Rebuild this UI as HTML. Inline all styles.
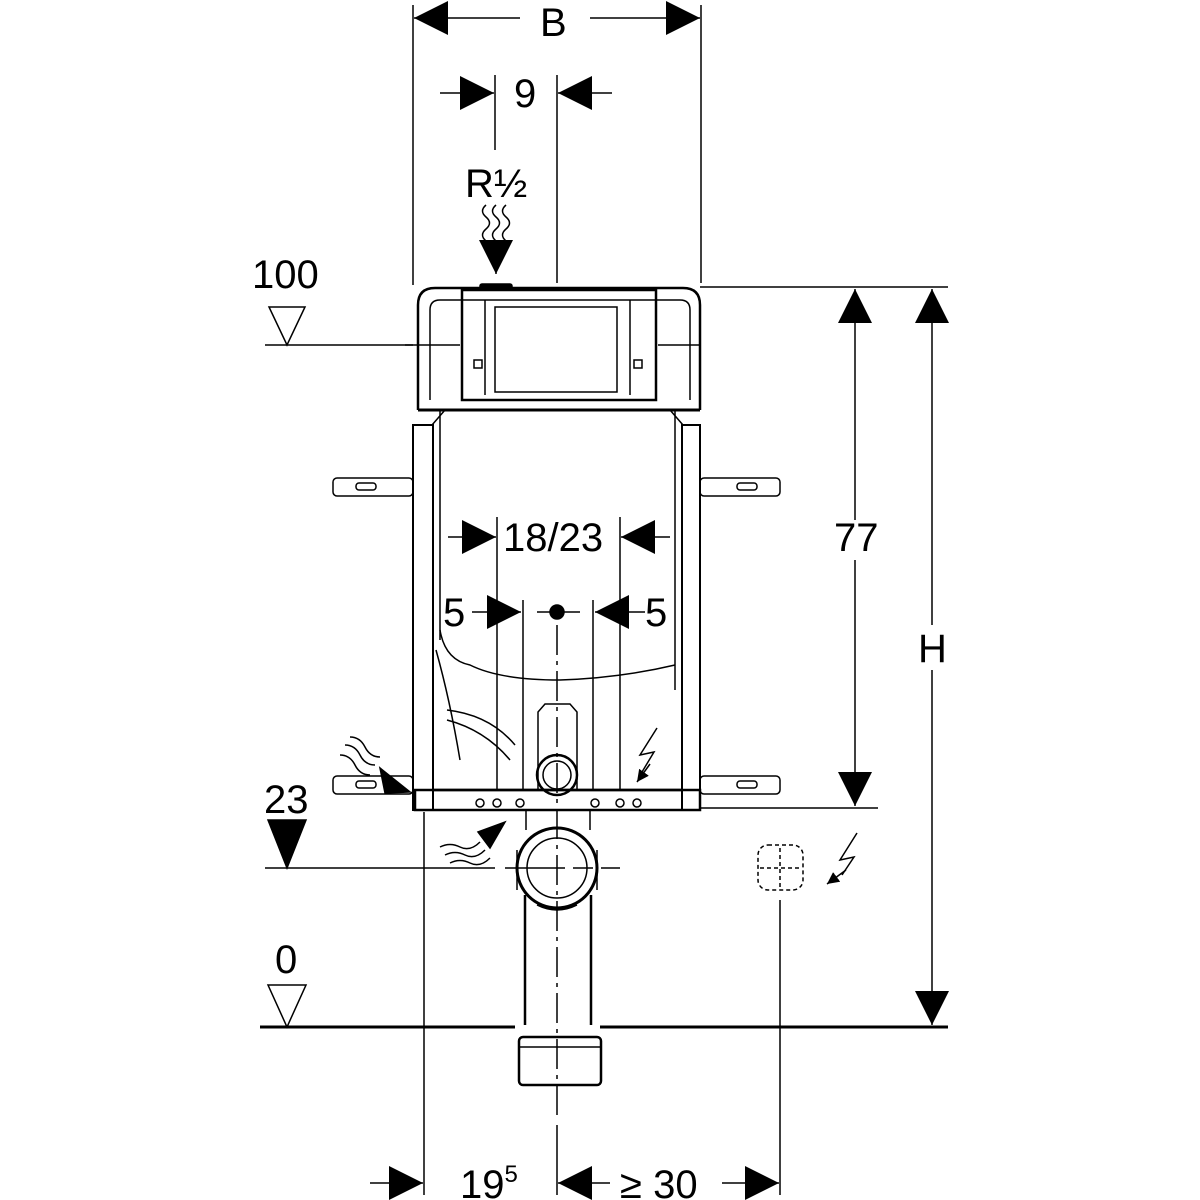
<!DOCTYPE html>
<html><head><meta charset="utf-8"><style>
html,body{margin:0;padding:0;background:#fff;}
svg{display:block;}
text{font-family:"Liberation Sans",sans-serif;fill:#000;}
</style></head><body>
<svg width="1200" height="1200" viewBox="0 0 1200 1200" xmlns="http://www.w3.org/2000/svg">
<defs>
<marker id="a" viewBox="0 0 10 10" refX="10" refY="5" markerWidth="34" markerHeight="34" markerUnits="userSpaceOnUse" orient="auto"><path d="M0,0 L10,5 L0,10 z" fill="#000"/></marker>
<marker id="s" viewBox="0 0 10 10" refX="10" refY="5" markerWidth="12" markerHeight="12" markerUnits="userSpaceOnUse" orient="auto"><path d="M0,0 L10,5 L0,10 z" fill="#000"/></marker>
</defs>
<g stroke="#000" fill="none" stroke-width="1.5">
<!-- B -->
<line x1="413" y1="5" x2="413" y2="285"/>
<line x1="701" y1="5" x2="701" y2="283"/>
<line x1="520" y1="18" x2="414" y2="18" marker-end="url(#a)"/>
<line x1="590" y1="18" x2="700" y2="18" marker-end="url(#a)"/>
<!-- 9 -->
<line x1="495" y1="75" x2="495" y2="150"/>
<line x1="557" y1="75" x2="557" y2="283"/>
<line x1="440" y1="93" x2="494" y2="93" marker-end="url(#a)"/>
<line x1="612" y1="93" x2="558" y2="93" marker-end="url(#a)"/>
<!-- R1/2 waves and arrow -->
<path d="M486,205 q-7,6 0,12 t0,12 t0,12 M496,205 q-7,6 0,12 t0,12 t0,12 M506,205 q-7,6 0,12 t0,12 t0,12"/>
<line x1="496" y1="245" x2="496" y2="274" marker-end="url(#a)"/>
<!-- level 100 -->
<line x1="265" y1="345" x2="413" y2="345"/>
<path d="M269,307 L305,307 L287,345 z"/>
<!-- level 23 -->
<line x1="265" y1="868" x2="620" y2="868" stroke-dasharray="230,10,60,8,20,8"/>
<path d="M268,820 L306,820 L287,868 z" fill="#000"/>
<!-- level 0 -->
<path d="M268,985 L306,985 L287,1027 z"/>
<line x1="260" y1="1027" x2="515" y2="1027" stroke-width="3"/>
<line x1="600" y1="1027" x2="948" y2="1027" stroke-width="3"/>
<!-- 77 & H -->
<line x1="700" y1="287" x2="948" y2="287"/>
<line x1="700" y1="808" x2="878" y2="808"/>
<line x1="855" y1="520" x2="855" y2="289" marker-end="url(#a)"/>
<line x1="855" y1="560" x2="855" y2="806" marker-end="url(#a)"/>
<line x1="932" y1="625" x2="932" y2="289" marker-end="url(#a)"/>
<line x1="932" y1="670" x2="932" y2="1025" marker-end="url(#a)"/>
<!-- top frame -->
<path d="M418,410 L418,305 Q418,288 435,288 L683,288 Q700,288 700,305 L700,410" stroke-width="2.5"/>
<path d="M430,400 L430,310 Q430,300 440,300 L680,300 Q690,300 690,310 L690,400"/>
<rect x="462" y="290" width="194" height="110" stroke-width="2.5"/>
<rect x="495" y="307" width="122" height="85"/>
<rect x="480" y="284" width="32" height="5" fill="#000" rx="2"/>
<line x1="405" y1="345" x2="460" y2="345"/>
<line x1="658" y1="345" x2="700" y2="345"/>
<line x1="485" y1="300" x2="485" y2="395"/><line x1="630" y1="300" x2="630" y2="395"/>
<rect x="474" y="360" width="8" height="8"/><rect x="634" y="360" width="8" height="8"/>
<!-- main body -->
<line x1="418" y1="410" x2="700" y2="410" stroke-width="3"/>
<path d="M432,425 L445,410 M683,425 L670,410"/>
<rect x="413" y="425" width="20" height="385" stroke-width="2"/>
<rect x="682" y="425" width="18" height="385" stroke-width="2"/>
<line x1="440" y1="410" x2="440" y2="640"/>
<line x1="675" y1="410" x2="675" y2="690"/>
<!-- inner cistern -->
<path d="M440,630 Q445,660 470,665 Q500,680 560,680 Q620,678 675,665"/>
<path d="M436,650 Q450,700 460,760 M447,710 Q490,715 515,745 M447,720 Q485,730 510,760"/>
<!-- bottom plate -->
<rect x="415" y="790" width="285" height="20" stroke-width="2.5"/>
<line x1="433" y1="790" x2="682" y2="790" stroke-width="2.5"/>
<circle cx="480" cy="803" r="4"/><circle cx="497" cy="803" r="4"/><circle cx="520" cy="803" r="4"/>
<circle cx="595" cy="803" r="4"/><circle cx="620" cy="803" r="4"/><circle cx="637" cy="803" r="4"/>
<!-- brackets -->
<rect x="333" y="478" width="80" height="18" rx="4"/>
<rect x="700" y="478" width="80" height="18" rx="4"/>
<rect x="333" y="776" width="80" height="18" rx="4"/>
<rect x="700" y="776" width="80" height="18" rx="4"/>
<rect x="356" y="483" width="20" height="7" rx="3"/><rect x="737" y="483" width="20" height="7" rx="3"/>
<rect x="356" y="781" width="20" height="7" rx="3"/><rect x="737" y="781" width="20" height="7" rx="3"/>
<!-- 18/23 -->
<line x1="497" y1="517" x2="497" y2="790"/>
<line x1="620" y1="517" x2="620" y2="790"/>
<line x1="523" y1="600" x2="523" y2="790"/>
<line x1="593" y1="600" x2="593" y2="790"/>
<line x1="448" y1="537" x2="496" y2="537" marker-end="url(#a)"/>
<line x1="670" y1="537" x2="621" y2="537" marker-end="url(#a)"/>
<line x1="472" y1="612" x2="521" y2="612" marker-end="url(#a)"/>
<line x1="645" y1="612" x2="595" y2="612" marker-end="url(#a)"/>
<line x1="537" y1="612" x2="580" y2="612"/>
<circle cx="557" cy="612" r="7" fill="#000"/>
<!-- centerline -->
<line x1="557" y1="625" x2="557" y2="1120" stroke-dasharray="30,6,4,6"/>
<line x1="557" y1="1125" x2="557" y2="1195"/>
<!-- flush pipe -->
<path d="M538,790 L538,712 L545,704 L570,704 L577,712 L577,790"/>
<circle cx="557" cy="775" r="20" stroke-width="2.5"/>
<circle cx="557" cy="775" r="14"/>
<!-- waste -->
<line x1="526" y1="810" x2="526" y2="830"/><line x1="590" y1="810" x2="590" y2="830"/>
<circle cx="557" cy="868" r="40" stroke-width="3"/>
<circle cx="557" cy="868" r="30"/>
<path d="M517,850 L517,890 M597,850 L597,890"/>
<path d="M525,895 L525,1025 M591,895 L591,1025" stroke-width="2.5"/>
<path d="M537,905 Q557,915 577,905"/>
<rect x="519" y="1037" width="82" height="48" rx="4" stroke-width="2.5"/>
<line x1="519" y1="1047" x2="601" y2="1047"/>
<!-- arrows water inlet -->
<path d="M345,745 q10,0 15,10 t15,10 M350,737 q10,0 15,10 t15,10 M340,755 q10,0 15,10 t15,10"/>
<path d="M380,768 L410,792 L385,793 z" fill="#000"/>
<path d="M445,855 q10,-5 20,0 t20,-5 M440,847 q10,-5 20,0 t20,-5 M450,863 q10,-5 20,0 t20,-5"/>
<path d="M478,832 L505,822 L490,848 z" fill="#000"/>
<!-- lightning -->
<path d="M657,728 L640,755 L654,752 L642,772"/>
<line x1="650" y1="764" x2="637" y2="782" marker-end="url(#s)"/>
<path d="M857,833 L840,860 L854,857 L842,875"/>
<line x1="846" y1="870" x2="827" y2="884" marker-end="url(#s)"/>
<rect x="758" y="845" width="45" height="45" rx="10" stroke-dasharray="4,3"/>
<line x1="760" y1="868" x2="800" y2="868" stroke-dasharray="4,3"/>
<line x1="780" y1="848" x2="780" y2="888" stroke-dasharray="4,3"/>
<line x1="780" y1="900" x2="780" y2="1195"/>
<!-- bottom dims -->
<line x1="424" y1="812" x2="424" y2="1195"/>
<line x1="370" y1="1183" x2="423" y2="1183" marker-end="url(#a)"/>
<line x1="610" y1="1183" x2="558" y2="1183" marker-end="url(#a)"/>
<line x1="722" y1="1183" x2="779" y2="1183" marker-end="url(#a)"/>
</g>
<g font-size="40">
<text x="540" y="36">B</text>
<text x="514" y="107">9</text>
<text x="465" y="197">R½</text>
<text x="252" y="288">100</text>
<text x="264" y="813">23</text>
<text x="275" y="973">0</text>
<text x="834" y="551">77</text>
<text x="918" y="662">H</text>
<text x="503" y="551">18/23</text>
<text x="443" y="626">5</text>
<text x="645" y="626">5</text>
<text x="460" y="1198">19<tspan font-size="24" dy="-16">5</tspan></text>
<text x="620" y="1198">≥ 30</text>
</g>
</svg>
</body></html>
